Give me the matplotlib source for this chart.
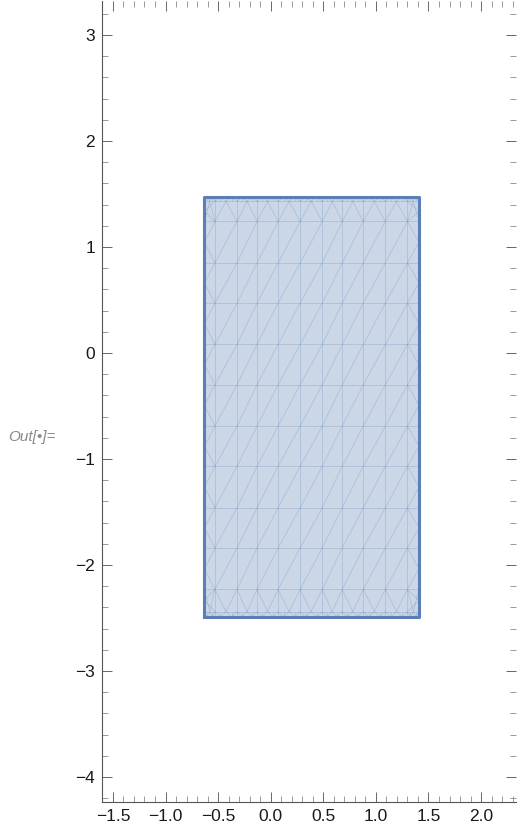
import numpy as np
import matplotlib
matplotlib.use("Agg")
import matplotlib.pyplot as plt
from matplotlib.collections import LineCollection
from matplotlib.patches import Rectangle
from matplotlib.ticker import MultipleLocator

# Region bounds
rect_x = [-0.63, 1.41]
rect_y = [-2.49, 1.47]

# Interior mesh columns and rows
mesh_cols = [-0.53, -0.32, -0.13, 0.07, 0.28, 0.49, 0.68, 0.88, 1.09, 1.30]
mesh_rows = [1.24, 0.85, 0.47, 0.08, -0.30, -0.69, -1.07, -1.46, -1.84, -2.23]
# Thin boundary-layer rows near top and bottom edges
thin_rows = [1.43, -2.44]

x_ticks = [-1.5, -1.0, -0.5, 0.0, 0.5, 1.0, 1.5, 2.0]
y_ticks = [3, 2, 1, 0, -1, -2, -3, -4]

BLUE = "#5b7fb5"
FILL = "#cbd7e7"

plt.rcParams["font.family"] = ["Liberation Sans", "DejaVu Sans"]

fig = plt.figure(figsize=(5.17, 8.36), dpi=100)
ax = fig.add_axes([102 / 517, 34 / 836, 414 / 517, 801 / 836])
ax.set_xlim(-1.604, 2.332)
ax.set_ylim(-4.236, 3.32)

x0, x1 = rect_x
y0, y1 = rect_y
ax.add_patch(Rectangle((x0, y0), x1 - x0, y1 - y0, facecolor=FILL,
                       edgecolor="none", zorder=1))

segs = []
ttop, tbot = thin_rows
# vertical mesh lines
for xc in mesh_cols:
    segs.append([(xc, y0), (xc, y1)])
# horizontal mesh lines
for yr in mesh_rows + thin_rows:
    segs.append([(x0, yr), (x1, yr)])
# diagonals of interior cells
for i in range(len(mesh_cols) - 1):
    for j in range(len(mesh_rows) - 1):
        segs.append([(mesh_cols[i], mesh_rows[j + 1]),
                     (mesh_cols[i + 1], mesh_rows[j])])
# side strips: zigzag from boundary midpoints
side_rows = [ttop] + mesh_rows + [tbot]
for j in range(len(side_rows) - 1):
    ym = 0.5 * (side_rows[j] + side_rows[j + 1])
    for xb, xi in ((x0, mesh_cols[0]), (x1, mesh_cols[-1])):
        segs.append([(xb, ym), (xi, side_rows[j])])
        segs.append([(xb, ym), (xi, side_rows[j + 1])])
# top and bottom strips: fans from thin-row midpoints
cols_ext = [x0] + mesh_cols + [x1]
for i in range(len(cols_ext) - 1):
    xm = 0.5 * (cols_ext[i] + cols_ext[i + 1])
    for yt, yi in ((ttop, mesh_rows[0]), (tbot, mesh_rows[-1])):
        segs.append([(xm, yt), (cols_ext[i], yi)])
        segs.append([(xm, yt), (cols_ext[i + 1], yi)])
# boundary layer: small triangles between thin rows and edges
half_cols = []
for i in range(len(cols_ext) - 1):
    half_cols += [cols_ext[i], 0.5 * (cols_ext[i] + cols_ext[i + 1])]
half_cols.append(x1)
for k in range(len(half_cols) - 1):
    xa, xb = half_cols[k], half_cols[k + 1]
    xm = 0.5 * (xa + xb)
    for yt, ye in ((ttop, y1), (tbot, y0)):
        segs.append([(xa, yt), (xm, ye)])
        segs.append([(xb, yt), (xm, ye)])
        segs.append([(xm, yt), (xm, ye)])

ax.add_collection(LineCollection(segs, colors=BLUE, linewidths=0.5,
                                 alpha=0.32, zorder=2))

ax.plot([x0, x1, x1, x0, x0], [y0, y0, y1, y1, y0], color=BLUE, lw=2.2,
        solid_joinstyle="round", solid_capstyle="round", zorder=3)

# frame styling
for side in ("top", "right"):
    ax.spines[side].set_visible(False)
for side in ("left", "bottom"):
    ax.spines[side].set_color("#555555")
    ax.spines[side].set_linewidth(0.8)

ax.set_xticks(x_ticks)
ax.set_xticklabels(["\u22121.5", "\u22121.0", "\u22120.5", "0.0", "0.5",
                    "1.0", "1.5", "2.0"])
ax.set_yticks(y_ticks)
ax.set_yticklabels(["3", "2", "1", "0", "\u22121", "\u22122", "\u22123",
                    "\u22124"])
ax.xaxis.set_minor_locator(MultipleLocator(0.1))
ax.yaxis.set_minor_locator(MultipleLocator(0.2))
ax.tick_params(which="both", direction="in", top=True, right=True,
               color="#666666", width=0.7, labelsize=12.5,
               labelcolor="#1a1a1a")
ax.tick_params(which="major", length=7, pad=5)
ax.tick_params(which="minor", length=4, color="#999999")

fig.text(8 / 517, 1 - 437 / 836, "Out[\u2022]=", fontsize=11, style="italic",
         color="#8a8a8a", va="center", ha="left")

fig.savefig("out.png", dpi=100)
